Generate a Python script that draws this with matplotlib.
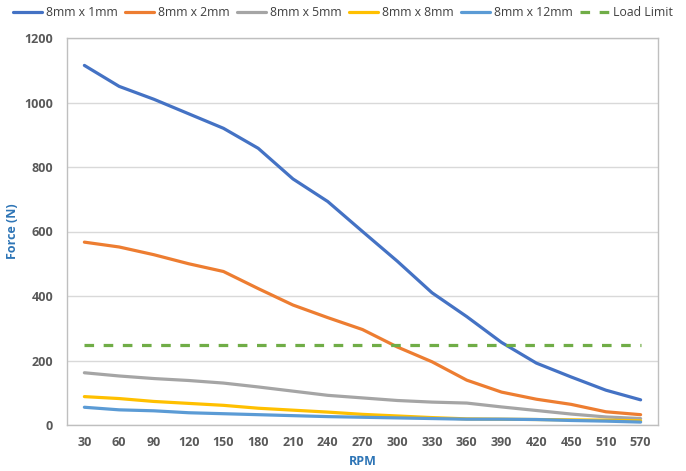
import matplotlib
matplotlib.use("Agg")
import matplotlib.pyplot as plt

rpm = ["30", "60", "90", "120", "150", "180", "210", "240", "270", "300",
       "330", "360", "390", "420", "450", "510", "570"]
s_1mm = [1115, 1050, 1010, 965, 920, 858, 763, 693, 600, 508, 410, 336, 256, 192, 149, 108, 78]
s_2mm = [567, 552, 528, 500, 476, 423, 372, 333, 296, 242, 196, 139, 102, 80, 64, 41, 32]
s_5mm = [162, 152, 144, 138, 130, 118, 105, 92, 84, 76, 71, 68, 56, 45, 34, 25, 20]
s_8mm = [88, 82, 73, 67, 61, 52, 46, 40, 33, 28, 23, 19, 18, 17, 16, 15, 13]
s_12mm = [55, 47, 44, 38, 35, 32, 29, 26, 24, 22, 20, 18, 18, 17, 14, 12, 9]
load_limit = 248

series = [("8mm x 1mm", s_1mm, "#4472C4"),
          ("8mm x 2mm", s_2mm, "#ED7D31"),
          ("8mm x 5mm", s_5mm, "#A5A5A5"),
          ("8mm x 8mm", s_8mm, "#FFC000"),
          ("8mm x 12mm", s_12mm, "#5B9BD5")]

plt.rcParams['font.family'] = ['Open Sans', 'DejaVu Sans']

fig = plt.figure(figsize=(6.86, 4.71), dpi=100)
ax = fig.add_axes([67/686, 46/471, (658-67)/686, (425-38)/471])

x = list(range(len(rpm)))
for name, vals, col in series:
    ax.plot(x, vals, color=col, lw=2.3, label=name, solid_capstyle='round')
ax.plot(x, [load_limit]*len(x), color="#70AD47", lw=2.3, ls=(0, (3, 3)), label="Load Limit")

ax.set_xlim(-0.5, len(rpm) - 0.5)
ax.set_ylim(0, 1200)
ax.set_yticks(range(0, 1201, 200))
ax.set_xticks(x)
ax.set_xticklabels(rpm)
ax.grid(axis='y', color='#D9D9D9', lw=1)
ax.set_axisbelow(True)
for sp in ax.spines.values():
    sp.set_color('#BFBFBF')
    sp.set_linewidth(1)
ax.tick_params(axis='y', length=0, labelsize=9, labelcolor='#595959', pad=10)
ax.tick_params(axis='x', length=0, labelsize=9, labelcolor='#595959', pad=8)
for lab in ax.get_xticklabels() + ax.get_yticklabels():
    lab.set_fontweight('bold')
ax.set_xlabel("RPM", color='#2E75B6', fontsize=9, fontweight='bold', labelpad=4)
ax.set_ylabel("Force (N)", color='#2E75B6', fontsize=9, fontweight='bold', labelpad=4)

leg = fig.legend(loc='upper center', bbox_to_anchor=(0.5, 1.01), ncol=6, frameon=False,
                 fontsize=8.8, handlelength=2.4, columnspacing=0.6, handletextpad=0.3)
for t in leg.get_texts():
    t.set_color('#404040')

fig.savefig("out.png", dpi=100)
